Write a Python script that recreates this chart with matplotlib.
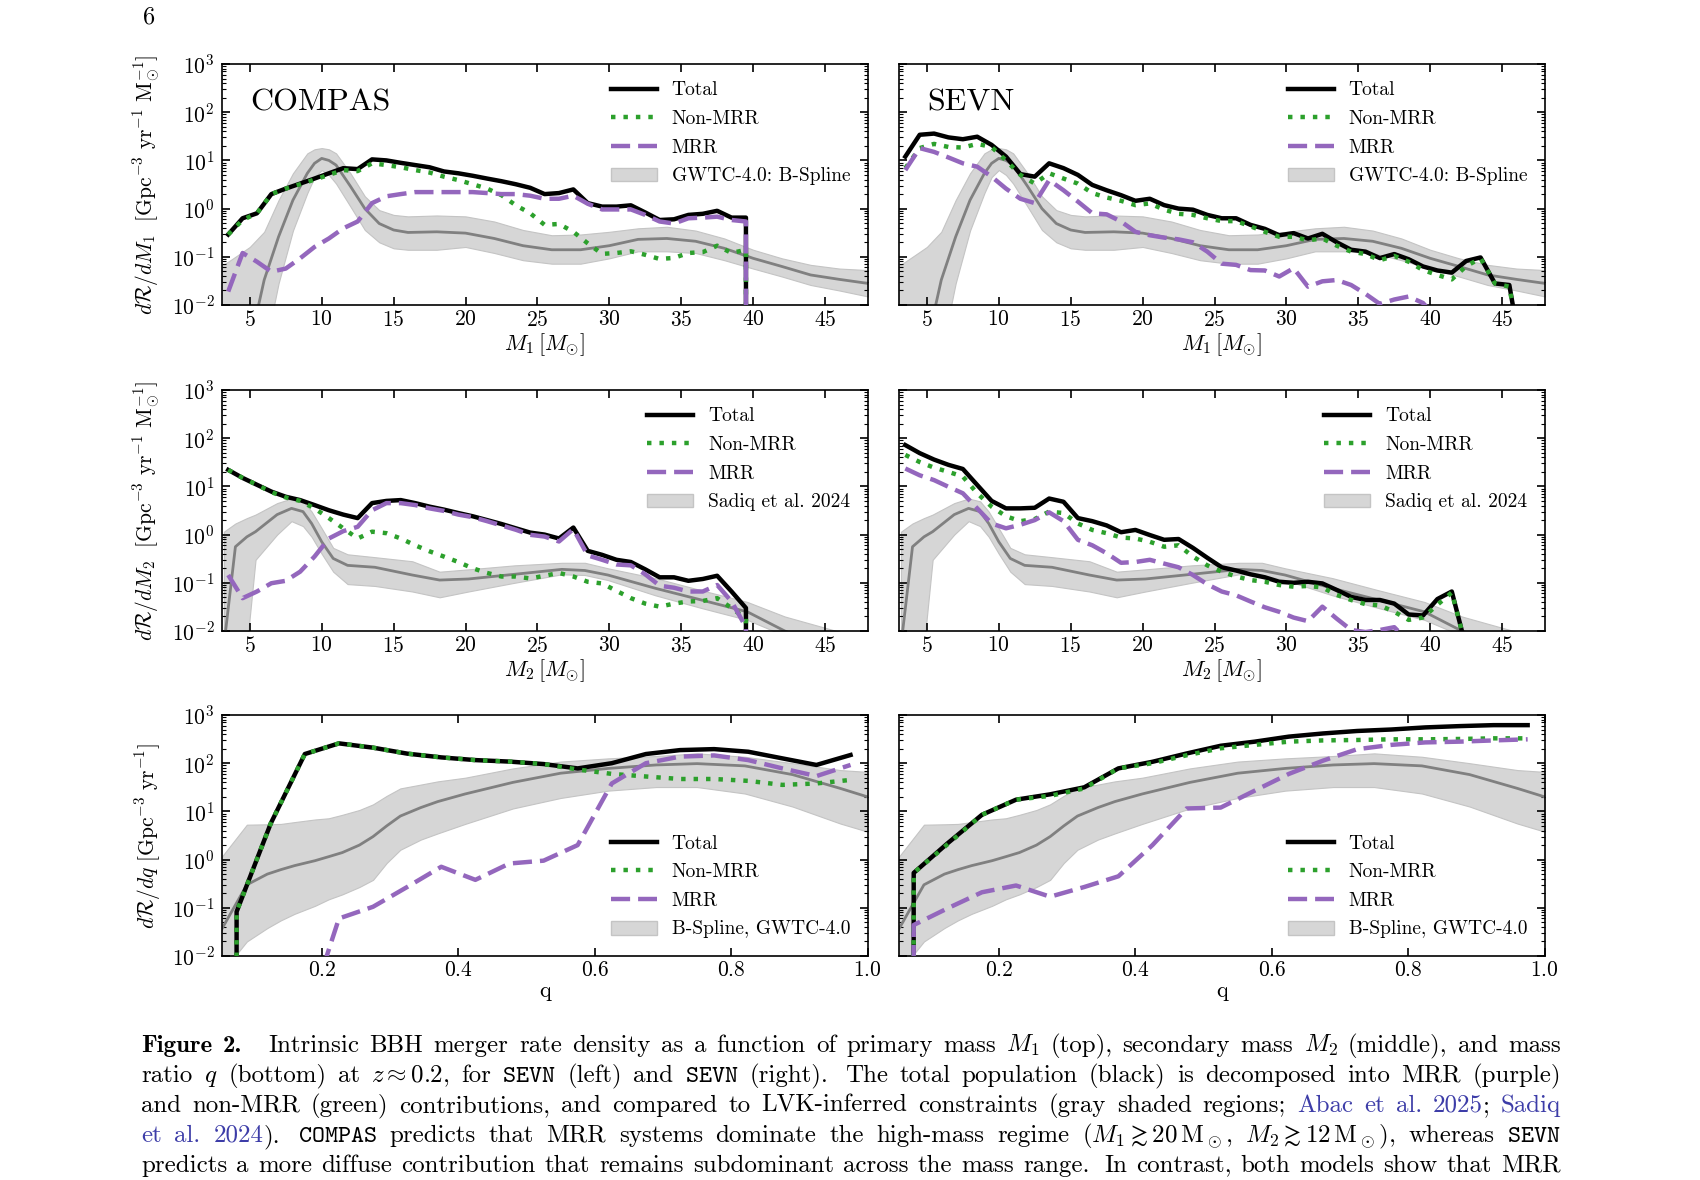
import re
import numpy as np
import matplotlib
matplotlib.use("Agg")
import matplotlib.pyplot as plt
from matplotlib.lines import Line2D
from matplotlib.patches import Patch
from matplotlib.ticker import MultipleLocator

plt.rcParams.update({
    "font.family": "cmr10",
    "mathtext.fontset": "cm",
    "axes.formatter.use_mathtext": True,
    "font.size": 15,
    "axes.linewidth": 1.2,
    "xtick.direction": "in", "ytick.direction": "in",
    "xtick.top": True, "ytick.right": True,
    "xtick.major.size": 5.5, "ytick.major.size": 5.5, "ytick.minor.size": 3,
    "xtick.major.width": 1.2, "ytick.major.width": 1.2, "ytick.minor.width": 0.8,
    "xtick.labelsize": 15.5, "ytick.labelsize": 15.5,
    "xtick.major.pad": 3.5, "ytick.major.pad": 5,
})

# ---------------- data ----------------
# mass bins (bin centres, Msun)
m_compas = np.arange(3.5, 41.0, 1.0)   # 3.5 ... 40.5
m1_sevn = np.arange(3.5, 47.0, 1.0)    # 3.5 ... 46.5
m2_sevn = np.arange(3.5, 43.0, 1.0)    # 3.5 ... 42.5
q_bins = np.arange(0.025, 1.0, 0.05)   # 0.025 ... 0.975

compas_m1_total = [0.29, 0.63, 0.8, 2.0, 2.6, 3.3, 4.2, 5.4, 6.9, 6.6, 10.5, 10, 8.9, 8.0, 7.2, 5.9,
                   5.4, 4.8, 4.2, 3.7, 3.2, 2.7, 2.0, 2.1, 2.5, 1.3, 1.1, 1.1, 1.17, 0.83, 0.58, 0.6,
                   0.74, 0.78, 0.9, 0.65, 0.65, 0]
compas_m1_non = [0.29, 0.58, 0.8, 2.0, 2.6, 3.2, 4.0, 5.0, 6.3, 6.0, 8.7, 8.0, 7.2, 6.3, 5.6, 4.6,
                 3.9, 3.2, 2.6, 1.9, 1.17, 0.8, 0.46, 0.48, 0.33, 0.19, 0.115, 0.12, 0.13, 0.11,
                 0.09, 0.095, 0.12, 0.125, 0.17, 0.12, 0.14, 0]
compas_m1_mrr = [0.019, 0.12, 0.079, 0.049, 0.057, 0.093, 0.16, 0.24, 0.39, 0.54, 1.3, 1.8, 2.0, 2.2,
                 2.2, 2.2, 2.2, 2.2, 2.1, 2.0, 2.0, 1.85, 1.6, 1.6, 1.85, 1.26, 0.96, 0.96, 0.96,
                 0.74, 0.54, 0.49, 0.63, 0.65, 0.68, 0.58, 0.54, 0]

sevn_m1_total = [12, 34, 36, 30, 27.5, 31, 21, 12, 5.2, 4.6, 8.7, 6.9, 5.0, 3.1, 2.4, 1.9, 1.45, 1.6,
                 1.18, 1.0, 0.95, 0.74, 0.63, 0.63, 0.46, 0.38, 0.28, 0.31, 0.24, 0.30, 0.2, 0.14,
                 0.128, 0.094, 0.114, 0.089, 0.063, 0.052, 0.047, 0.082, 0.097, 0.028, 0.026, 0.0005]
sevn_m1_non = [6.9, 18, 22, 19, 18.5, 22, 19, 10, 5.0, 3.3, 5.4, 4.2, 3.3, 2.1, 1.7, 1.45, 1.18, 1.28,
               0.95, 0.78, 0.74, 0.63, 0.55, 0.55, 0.43, 0.33, 0.26, 0.26, 0.22, 0.24, 0.17, 0.128,
               0.114, 0.085, 0.104, 0.079, 0.053, 0.042, 0.034, 0.064, 0.093, 0.028, 0.024, 0.0005]
sevn_m1_mrr = [6.3, 18, 15, 11.5, 8.7, 7.4, 4.6, 2.6, 1.6, 1.3, 3.9, 2.4, 1.4, 0.8, 0.76, 0.54, 0.33,
               0.28, 0.25, 0.23, 0.2, 0.128, 0.072, 0.068, 0.053, 0.052, 0.039, 0.058, 0.024, 0.031,
               0.033, 0.026, 0.017, 0.0105, 0.013, 0.015, 0.011, 0.005, 0.003, 0.002, 0.002, 0.001,
               0.001, 0]

compas_m2_total = [22, 15, 10.8, 7.8, 6.1, 5.2, 4.1, 3.2, 2.6, 2.2, 4.5, 5.0, 5.2, 4.5, 3.8, 3.3, 2.8,
                   2.4, 2.0, 1.66, 1.35, 1.1, 1.0, 0.83, 1.4, 0.46, 0.38, 0.30, 0.27, 0.19, 0.13,
                   0.13, 0.11, 0.12, 0.14, 0.066, 0.03, 0]
compas_m2_non = [22, 15, 10.8, 7.6, 5.9, 5.0, 3.5, 2.2, 1.35, 0.83, 1.15, 1.07, 0.83, 0.6, 0.45, 0.35,
                 0.27, 0.2, 0.16, 0.135, 0.135, 0.123, 0.14, 0.16, 0.135, 0.105, 0.097, 0.068,
                 0.048, 0.037, 0.032, 0.037, 0.041, 0.042, 0.048, 0.03, 0.018, 0]
compas_m2_mrr = [0.145, 0.048, 0.066, 0.098, 0.11, 0.17, 0.35, 0.83, 1.18, 1.45, 3.2, 4.5, 4.5, 4.1,
                 3.5, 3.1, 2.6, 2.3, 1.9, 1.55, 1.26, 0.99, 0.91, 0.72, 1.3, 0.37, 0.3, 0.24, 0.23,
                 0.15, 0.087, 0.079, 0.066, 0.066, 0.09, 0.041, 0.012, 0]

sevn_m2_total = [72, 49, 36, 28, 23, 10.7, 5.0, 3.5, 3.5, 3.6, 5.6, 4.8, 2.2, 1.9, 1.55, 1.12, 1.25,
                 0.98, 0.78, 0.81, 0.53, 0.33, 0.21, 0.18, 0.15, 0.13, 0.105, 0.1, 0.105, 0.097,
                 0.071, 0.051, 0.044, 0.044, 0.037, 0.022, 0.021, 0.046, 0.066, 0.0045]
sevn_m2_non = [45, 32, 24.5, 20, 16, 7.2, 3.8, 2.4, 1.9, 2.1, 3.0, 2.8, 1.7, 1.25, 1.07, 0.87, 0.83,
               0.71, 0.56, 0.6, 0.35, 0.23, 0.17, 0.135, 0.114, 0.105, 0.09, 0.083, 0.086, 0.08,
               0.056, 0.044, 0.036, 0.034, 0.025, 0.017, 0.019, 0.035, 0.063, 0.0045]
sevn_m2_mrr = [23.5, 17, 13.5, 9.8, 7.2, 3.5, 1.7, 1.35, 1.6, 2.0, 2.9, 1.9, 0.78, 0.6, 0.41, 0.26,
               0.27, 0.3, 0.25, 0.21, 0.145, 0.093, 0.066, 0.055, 0.041, 0.031, 0.025, 0.019, 0.016,
               0.032, 0.018, 0.0105, 0.0095, 0.0105, 0.012, 0.006, 0.004, 0.003, 0.002, 0]

compas_q_total = [0, 0.083, 5.6, 155, 258, 210, 158, 132, 116, 108, 96, 78, 100, 155, 187, 196, 173,
                  126, 92, 148]
compas_q_non = [0, 0.083, 5.6, 155, 258, 210, 158, 132, 116, 108, 96, 74, 60, 53, 47, 47, 43, 35.5,
                38, 45]
compas_q_mrr = [0, 0, 0, 4e-4, 0.06, 0.105, 0.27, 0.71, 0.38, 0.83, 0.95, 2.0, 38, 100, 137, 145,
                116, 78, 54, 92]

sevn_q_total = [0, 0.53, 2.2, 8.5, 17.5, 22.6, 31.6, 78, 107, 159, 230, 280, 356, 414, 466, 500, 553,
                588, 616, 616]
sevn_q_non = [0, 0.53, 2.1, 8.5, 17.5, 21, 30, 78, 100, 146, 204, 240, 280, 297, 303, 313, 313, 318,
              328, 328]
sevn_q_mrr = [0, 0.044, 0.098, 0.21, 0.29, 0.17, 0.27, 0.45, 2.0, 11.5, 12, 27, 60, 113, 195, 240,
              270, 280, 297, 313]

# GWTC-4.0 B-Spline primary mass constraint
gw_m1 = [3.0, 4.0, 5.0, 6.0, 7.0, 8.0, 9.0, 9.5, 10.0, 10.5, 11.0, 12.0, 13.0, 14.0, 15.0, 16.0, 18.0,
         20.0, 22.0, 24.0, 26.0, 28.0, 30.0, 32.0, 34.0, 36.0, 38.0, 40.0, 42.0, 44.0, 46.0, 48.0]
gw_m1_med = [1e-5, 1e-4, 1.5e-3, 0.033, 0.26, 1.5, 5.4, 8.7, 11, 10, 8, 2.9, 1.0, 0.49, 0.36, 0.32,
             0.33, 0.31, 0.24, 0.17, 0.14, 0.14, 0.17, 0.23, 0.24, 0.21, 0.15, 0.093, 0.063, 0.042,
             0.034, 0.028]
gw_m1_hi = [0.063, 0.1, 0.16, 0.33, 1.5, 5.4, 14, 17, 18, 17, 14, 5.4, 1.8, 0.93, 0.74, 0.69, 0.72,
            0.69, 0.54, 0.36, 0.28, 0.29, 0.33, 0.39, 0.42, 0.35, 0.24, 0.14, 0.093, 0.068, 0.057,
            0.053]
gw_m1_lo = [1e-5, 1e-5, 1e-4, 1e-3, 0.028, 0.35, 2.1, 4.5, 6.3, 5.0, 3.3, 1.1, 0.36, 0.2, 0.15, 0.14,
            0.14, 0.16, 0.12, 0.085, 0.072, 0.072, 0.093, 0.13, 0.13, 0.12, 0.085, 0.057, 0.039,
            0.026, 0.02, 0.015]

# Sadiq et al. 2024 secondary mass constraint
sq_m2 = [3.2, 4.0, 4.8, 5.4, 6.9, 7.9, 8.7, 9.3, 10.0, 10.8, 11.8, 13.7, 16.3, 18.2, 20.2, 23.4, 26.7,
         28.3, 29.9, 33.2, 36.4, 39.6, 42.2, 45.8, 48.0]
sq_m2_med = [0.005, 0.56, 0.9, 1.15, 2.6, 3.5, 3.0, 1.7, 0.71, 0.32, 0.23, 0.21, 0.145, 0.114, 0.12,
             0.15, 0.19, 0.18, 0.145, 0.077, 0.044, 0.025, 0.01, 0.004, 0.003]
sq_m2_hi = [1.15, 1.7, 2.2, 2.6, 4.5, 5.6, 4.9, 3.0, 1.35, 0.53, 0.39, 0.34, 0.28, 0.17, 0.19, 0.23,
            0.26, 0.26, 0.2, 0.125, 0.07, 0.04, 0.02, 0.01, 0.007]
sq_m2_lo = [0.001, 0.001, 0.005, 0.3, 1.0, 1.9, 1.5, 0.9, 0.4, 0.17, 0.094, 0.086, 0.066, 0.05,
            0.066, 0.1, 0.15, 0.145, 0.114, 0.055, 0.03, 0.017, 0.008, 0.003, 0.002]

# GWTC-4.0 B-Spline mass-ratio constraint
gw_q = [0.05, 0.09, 0.12, 0.14, 0.16, 0.19, 0.21, 0.23, 0.255, 0.275, 0.295, 0.315, 0.345, 0.37,
        0.41, 0.48, 0.55, 0.62, 0.69, 0.75, 0.82, 0.89, 0.96, 1.0]
gw_q_med = [0.03, 0.3, 0.5, 0.62, 0.75, 0.95, 1.15, 1.4, 2.0, 3.0, 5.0, 8.0, 12, 16, 23, 40, 62, 78,
            92, 98, 88, 58, 30, 20]
gw_q_hi = [1.0, 5.3, 5.4, 5.5, 6.0, 6.8, 7.2, 8.5, 10.7, 14, 21, 30, 36, 42, 50, 78, 108, 126, 141,
           160, 136, 100, 72, 66]
gw_q_lo = [0.004, 0.02, 0.038, 0.055, 0.075, 0.11, 0.15, 0.19, 0.27, 0.38, 0.85, 1.6, 2.6, 3.5, 5.5,
           11.5, 19, 27, 32, 32, 23.5, 12.6, 5.6, 3.8]

# ---------------- styling ----------------
GREEN = "#2ca02c"
PURPLE = "#9467bd"
BAND = "#d6d6d6"
BAND_EDGE = "#c4c4c4"
MED = "#808080"
LINK = "#3d3da8"
DOT = (0, (1.0, 1.8))
DASH = (0, (4.3, 1.8))

W, H = 1700, 1180
fig = plt.figure(figsize=(17, 11.8), dpi=100)

col_x = [221.6, 898.7]
row_top = [64, 390, 715]
AW, AH = 646, 241


def add_ax(row, col):
    x0 = col_x[col]
    y0 = row_top[row]
    return fig.add_axes([x0 / W, 1 - (y0 + AH) / H, AW / W, AH / H])


def draw(ax, x, tot, non, mrr, bx, blo, bmed, bhi, blabel, xlim, xlab, legloc, ylab=None, name=None):
    ax.fill_between(bx, blo, bhi, facecolor=BAND, edgecolor=BAND_EDGE, lw=0.8, zorder=1)
    ax.plot(bx, bmed, color=MED, lw=2, zorder=2)
    ax.plot(x, tot, color="k", lw=3.2, zorder=3)
    ax.plot(x, non, color=GREEN, lw=3.2, ls=DOT, zorder=4)
    ax.plot(x, mrr, color=PURPLE, lw=3.2, ls=DASH, zorder=5)
    ax.set_yscale("log")
    ax.set_ylim(1e-2, 1e3)
    ax.set_xlim(*xlim)
    ax.set_xlabel(xlab, fontsize=16, labelpad=1)
    if ylab:
        ax.set_ylabel(ylab, fontsize=15.5, labelpad=6)
    else:
        ax.tick_params(labelleft=False)
    if name:
        ax.text(0.044, 0.809, name, transform=ax.transAxes, fontsize=23, va="baseline")
    handles = [Line2D([], [], color="k", lw=3.2),
               Line2D([], [], color=GREEN, lw=3.2, ls=DOT),
               Line2D([], [], color=PURPLE, lw=3.2, ls=DASH),
               Patch(facecolor=BAND, edgecolor=BAND_EDGE)]
    ax.legend(handles, ["Total", "Non-MRR", "MRR", blabel], loc=legloc, frameon=False,
              fontsize=14, handlelength=2.35, handletextpad=0.77, labelspacing=0.55,
              borderaxespad=0.5)


ylab_m1 = r"$d\mathcal{R}/dM_1\ \ [\mathrm{Gpc}^{-3}\ \mathrm{yr}^{-1}\ \mathrm{M}_{\odot}^{-1}]$"
ylab_m2 = r"$d\mathcal{R}/dM_2\ \ [\mathrm{Gpc}^{-3}\ \mathrm{yr}^{-1}\ \mathrm{M}_{\odot}^{-1}]$"
ylab_q = r"$d\mathcal{R}/dq\ [\mathrm{Gpc}^{-3}\ \mathrm{yr}^{-1}]$"
mlim = (3.04, 47.96)
qlim = (0.053, 1.0)

ax = add_ax(0, 0)
draw(ax, m_compas, compas_m1_total, compas_m1_non, compas_m1_mrr, gw_m1, gw_m1_lo, gw_m1_med,
     gw_m1_hi, "GWTC-4.0: B-Spline", mlim, r"$M_1\,[M_{\odot}]$", "upper right", ylab_m1, "COMPAS")
ax = add_ax(0, 1)
draw(ax, m1_sevn, sevn_m1_total, sevn_m1_non, sevn_m1_mrr, gw_m1, gw_m1_lo, gw_m1_med,
     gw_m1_hi, "GWTC-4.0: B-Spline", mlim, r"$M_1\,[M_{\odot}]$", "upper right", None, "SEVN")
ax = add_ax(1, 0)
draw(ax, m_compas, compas_m2_total, compas_m2_non, compas_m2_mrr, sq_m2, sq_m2_lo, sq_m2_med,
     sq_m2_hi, "Sadiq et al. 2024", mlim, r"$M_2\,[M_{\odot}]$", "upper right", ylab_m2)
ax = add_ax(1, 1)
draw(ax, m2_sevn, sevn_m2_total, sevn_m2_non, sevn_m2_mrr, sq_m2, sq_m2_lo, sq_m2_med,
     sq_m2_hi, "Sadiq et al. 2024", mlim, r"$M_2\,[M_{\odot}]$", "upper right")
ax = add_ax(2, 0)
draw(ax, q_bins, compas_q_total, compas_q_non, compas_q_mrr, gw_q, gw_q_lo, gw_q_med, gw_q_hi,
     "B-Spline, GWTC-4.0", qlim, "q", "lower right", ylab_q)
ax = add_ax(2, 1)
draw(ax, q_bins, sevn_q_total, sevn_q_non, sevn_q_mrr, gw_q, gw_q_lo, gw_q_med, gw_q_hi,
     "B-Spline, GWTC-4.0", qlim, "q", "lower right")

for a in fig.axes:
    if a.get_xlim()[1] > 10:
        a.xaxis.set_major_locator(MultipleLocator(5))
    else:
        a.xaxis.set_major_locator(MultipleLocator(0.2))

# page number
fig.text(143 / W, 1 - 23 / H, "6", fontsize=17.5, va="baseline")

# ---------------- caption (justified) ----------------
caption = [
    r"*Figure* *2.* Intrinsic BBH merger rate density as a function of primary mass $M_1$ (top), secondary mass $M_2$ (middle), and mass",
    r"ratio $q$ (bottom) at $z\approx0.2$, for $\mathtt{SEVN}$ (left) and $\mathtt{SEVN}$ (right). The total population (black) is decomposed into MRR (purple)",
    r"and non-MRR (green) contributions, and compared to LVK-inferred constraints (gray shaded regions; «Abac» «et» «al.» «2025»; «Sadiq»",
    r"«et» «al.» «2024»). $\mathtt{COMPAS}$ predicts that MRR systems dominate the high-mass regime ($M_1\gtrsim20\,\mathrm{M}_\odot$, $M_2\gtrsim12\,\mathrm{M}_\odot$), whereas $\mathtt{SEVN}$",
    r"predicts a more diffuse contribution that remains subdominant across the mass range. In contrast, both models show that MRR",
]
CAP_X0, CAP_X1 = 141, 1561
renderer = fig.canvas.get_renderer()


def make_line(y_px, line, size):
    arts, extra = [], []
    for w in line.split(" "):
        segs = []
        for p in re.split(r"(«[^»]*»|\*[^*]*\*)", w):
            if not p:
                continue
            kw = dict(color="black", family="cmr10")
            if p.startswith("«"):
                p = p[1:-1]
                kw["color"] = LINK
            elif p.startswith("*"):
                p = p[1:-1]
                kw["family"] = "cmb10"
            segs.append(fig.text(0, 1 - y_px / H, p, fontsize=size, va="baseline", ha="left", **kw))
        arts.append(segs)
        # wider space after the caption label and at sentence ends
        if w == "*2.*":
            extra.append(16)
        elif w.endswith(".") and not w.endswith("al.»") and w != "*Figure*":
            extra.append(5)
        else:
            extra.append(0)
    extra[-1] = 0
    return arts, extra


def widths_of(arts):
    return [[t.get_window_extent(renderer).width for t in segs] for segs in arts]


base = 15.0
lines = [make_line(1052 + 30 * i, ln, base) for i, ln in enumerate(caption)]
# pick one size so that every line fits with a normal inter-word space
em = base * 100 / 72
scales = []
for arts, extra in lines:
    tot = sum(sum(ws) for ws in widths_of(arts)) + sum(extra)
    scales.append((CAP_X1 - CAP_X0) / (tot + 0.36 * em * (len(arts) - 1)))
size = base * min(scales)
for arts, _ in lines:
    for segs in arts:
        for t in segs:
            t.set_fontsize(size)

for arts, extra in lines:
    ws = widths_of(arts)
    total = sum(sum(w) for w in ws) + sum(extra)
    gap = (CAP_X1 - CAP_X0 - total) / (len(arts) - 1)
    x = CAP_X0
    for segs, wl, ex in zip(arts, ws, extra):
        for t, wd in zip(segs, wl):
            t.set_x(x / W)
            x += wd
        x += gap + ex

fig.savefig("out.png", dpi=100)
